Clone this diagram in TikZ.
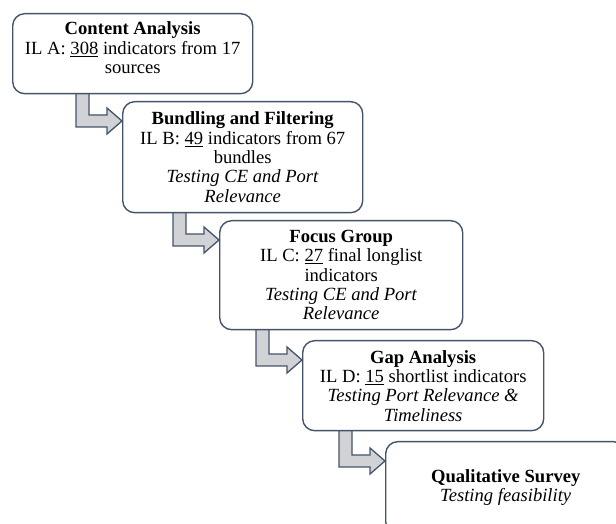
\documentclass[tikz,border=0pt]{standalone}
\usepackage{fontspec}
\setmainfont{Liberation Serif}
\usepackage{tikz}
\usetikzlibrary{
    calc,
    backgrounds
}
\definecolor{slate}{RGB}{68,84,106}
\definecolor{arrgray}{RGB}{208,210,214}
\tikzset{
  stage/.style  = {draw=slate, line width=1.4pt, fill=white, rounded corners=12pt,
                   anchor=north west, align=center, inner sep=2pt,
                   font=\fontsize{18.6}{19.3}\selectfont},
  bent/.style   = {draw=slate, fill=arrgray, line width=1.3pt, line join=miter}
}
% L-shaped block arrow from the bottom of #1 into the left side of #2
\newcommand{\bentarrow}[2]{%
  \draw[bent] let \p1=(#2.north west), \p2=(#1.south) in
    (\x1-46pt,\y2+1pt) -- (\x1-46pt,\y1-26pt) -- (\x1-15pt,\y1-26pt)
    -- (\x1-15pt,\y1-33pt) -- (\x1,\y1-20pt) -- (\x1-15pt,\y1-7pt)
    -- (\x1-15pt,\y1-14pt) -- (\x1-33pt,\y1-14pt) -- (\x1-33pt,\y2+1pt);
}

\begin{document}
\begin{tikzpicture}[x=1pt,y=1pt]
    \clip (0,0) rectangle (616,524);

    \node[stage, minimum width=240pt, minimum height=80pt]  (content)  at (12,511)
        {\textbf{Content Analysis}\\IL A: \underline{308} indicators from 17\\sources\rule[-12pt]{0pt}{0pt}};
    \node[stage, minimum width=240pt, minimum height=111pt] (bundling) at (122,423)
        {\textbf{Bundling and Filtering}\\IL B: \underline{49} indicators from 67\\bundles\\
         \textit{Testing CE and Port}\\\textit{Relevance}};
    \node[stage, minimum width=243pt, minimum height=109pt] (focus)    at (219,304)
        {\textbf{Focus Group}\\IL C: \underline{27} final longlist\\indicators\\
         \textit{Testing CE and Port}\\\textit{Relevance}};
    \node[stage, minimum width=241pt, minimum height=90pt]  (gap)      at (302,184)
        {\textbf{Gap Analysis}\\IL D: \underline{15} shortlist indicators\\
         \textit{Testing Port Relevance \&}\\\textit{Timeliness}};
    \node[stage, minimum width=240pt, minimum height=92pt]  (survey)   at (385,83)
        {\textbf{Qualitative Survey}\\\textit{Testing feasibility}};

    \begin{scope}[on background layer]
      \bentarrow{content}{bundling}
      \bentarrow{bundling}{focus}
      \bentarrow{focus}{gap}
      \bentarrow{gap}{survey}
    \end{scope}
\end{tikzpicture}
\end{document}
